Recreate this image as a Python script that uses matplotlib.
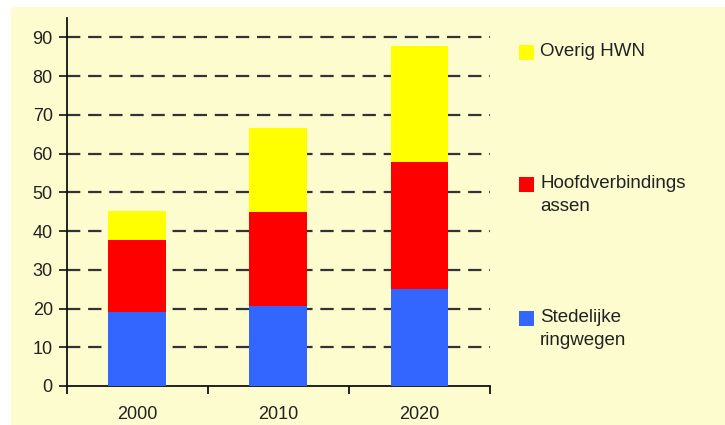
import numpy as np
import matplotlib.pyplot as plt
from matplotlib.patches import Rectangle

# waarden per jaar (gestapeld)
jaren = ['2000', '2010', '2020']
stedelijke = [19.0, 20.7, 25.0]
hoofdverbindingsassen = [18.6, 24.1, 32.8]
overig_hwn = [7.6, 21.8, 30.0]

series = [
    ('Stedelijke\nringwegen', stedelijke, '#3366FF'),
    ('Hoofdverbindings\nassen', hoofdverbindingsassen, '#FF0000'),
    ('Overig HWN', overig_hwn, '#FFFF00'),
]

plt.rcParams['font.family'] = ['Liberation Sans', 'DejaVu Sans']
achtergrond = '#FDFCCF'

fig = plt.figure(figsize=(7.25, 4.25), dpi=100, facecolor='white')
# gele achtergrond, met witte rand boven en links
fig.patches.append(Rectangle((11 / 725, 0), 1 - 11 / 725, 1 - 7 / 425,
                             transform=fig.transFigure, facecolor=achtergrond,
                             edgecolor='none', zorder=-5))

ax = fig.add_axes([66.7 / 725, 1 - 386 / 425, (490 - 66.7) / 725, (386 - 18) / 425])
ax.set_facecolor('none')

x = np.arange(len(jaren))
bottom = np.zeros(len(jaren))
for label, values, color in series:
    ax.bar(x, values, width=0.41, bottom=bottom, color=color, edgecolor='none', zorder=3)
    bottom += np.array(values)

ax.set_xlim(-0.5, len(jaren) - 0.5)
ax.set_ylim(0, 95)
ax.set_yticks(range(0, 100, 10))
ax.set_xticks(x)
ax.set_xticklabels(jaren)
ax.set_xticks(np.arange(-0.5, len(jaren)), minor=True)

for y in range(10, 100, 10):
    ax.axhline(y, color='#333333', lw=1.6, dashes=(6, 3.5), zorder=1)

for side in ['top', 'right']:
    ax.spines[side].set_visible(False)
for side in ['left', 'bottom']:
    ax.spines[side].set_linewidth(1.3)
    ax.spines[side].set_color('#111111')

ax.tick_params(axis='y', direction='out', length=6, width=1.3, labelsize=13, pad=4, colors='#222222')
ax.tick_params(axis='x', which='major', length=0, labelsize=13, pad=14.5, colors='#222222')
ax.tick_params(axis='x', which='minor', direction='out', length=6, width=1.3, color='#111111')

# legenda rechts
legenda = [
    ('Overig HWN', '#FFFF00', 52),
    ('Hoofdverbindings\nassen', '#FF0000', 184),
    ('Stedelijke\nringwegen', '#3366FF', 318),
]
for tekst, color, ypix in legenda:
    fig.patches.append(Rectangle((519 / 725, 1 - (ypix + 8) / 425), 15 / 725, 15 / 425,
                                 transform=fig.transFigure, facecolor=color,
                                 edgecolor='none', zorder=2))
    fig.text(540 / 725, 1 - (ypix - 9) / 425, tekst, fontsize=13.5, color='#222222',
             va='top', ha='left', linespacing=1.45)

fig.savefig('out.png', dpi=100, facecolor='white')
